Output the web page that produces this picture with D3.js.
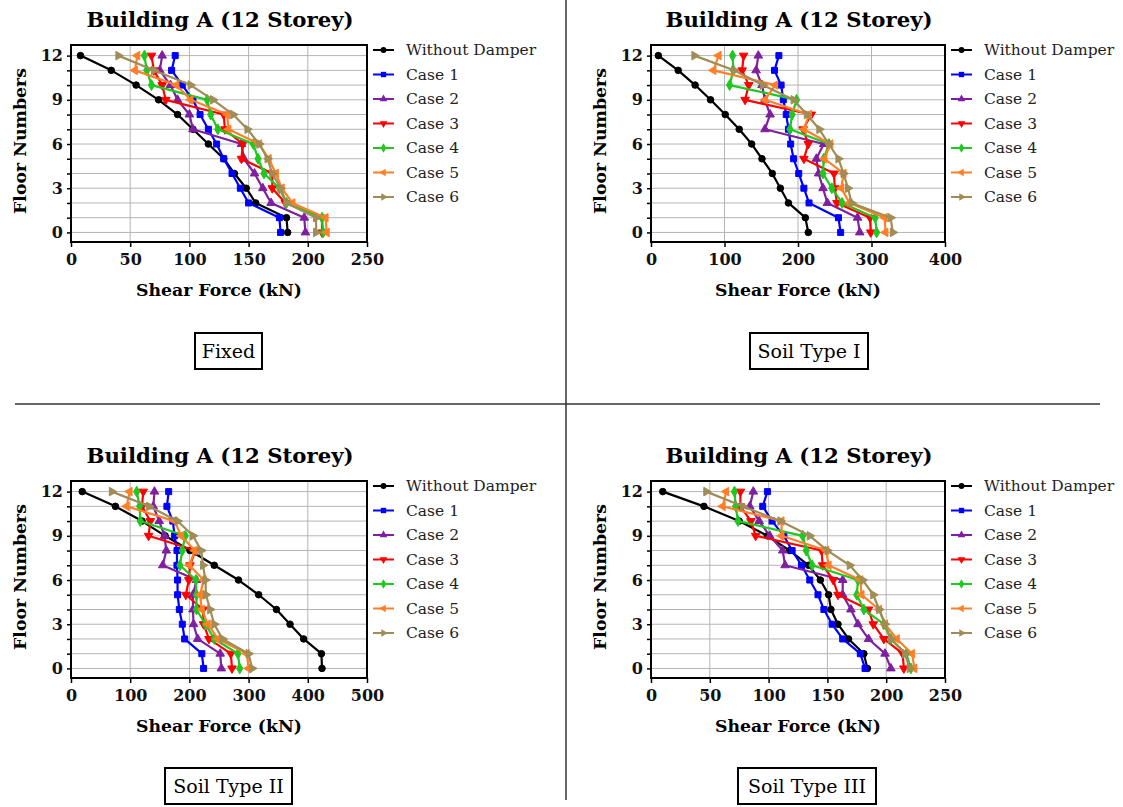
<!DOCTYPE html>
<html>
<head>
<meta charset="utf-8">
<script src="https://d3js.org/d3.v7.min.js"></script>
<style>
  body { margin: 0; background: #fff; }
  text { font-family: "DejaVu Serif", serif; }
</style>
</head>
<body>
<svg id="chart" width="1123" height="807"></svg>
<script>
// floors on the y axis, and which of them get a label
const floors = [0, 1, 2, 3, 4, 5, 6, 7, 8, 9, 10, 11, 12];
const floorLabels = [0, 3, 6, 9, 12];
const seriesNames = ["Without Damper", "Case 1", "Case 2", "Case 3", "Case 4", "Case 5", "Case 6"];

// shear force (kN) per floor, floor 0 -> 12, one row per series
const fixedShear = [
  [183, 182, 156, 148, 138, 129, 116, 103, 90, 74, 55, 34, 8],
  [177, 176, 150, 143, 136, 129, 123, 116, 109, 103, 94, 85, 88],
  [198, 197, 169, 162, 155, 146, 144, 103, 100, 90, 84, 75, 77],
  [212, 212, 181, 170, 170, 144, 145, 130, 129, 80, 77, 70, 68],
  [213, 212, 182, 176, 163, 158, 154, 124, 118, 115, 68, 64, 62],
  [216, 215, 187, 178, 173, 167, 159, 133, 132, 101, 89, 54, 56],
  [207, 207, 182, 177, 170, 166, 159, 149, 137, 120, 101, 70, 40]
];
const soil1Shear = [
  [214, 210, 187, 176, 165, 151, 137, 120, 101, 81, 60, 37, 10],
  [258, 255, 215, 208, 201, 194, 190, 187, 184, 180, 177, 168, 174],
  [284, 281, 240, 234, 228, 225, 235, 155, 162, 155, 151, 143, 146],
  [299, 298, 253, 250, 249, 208, 214, 207, 218, 128, 133, 124, 126],
  [307, 305, 260, 246, 234, 235, 242, 189, 192, 198, 107, 112, 111],
  [319, 318, 270, 259, 262, 236, 244, 208, 215, 155, 169, 85, 92],
  [329, 326, 273, 268, 262, 255, 242, 229, 212, 194, 152, 113, 59]
];
const soil2Shear = [
  [424, 423, 393, 370, 347, 317, 283, 242, 201, 159, 120, 75, 19],
  [224, 221, 192, 188, 183, 180, 180, 179, 179, 175, 172, 162, 165],
  [254, 252, 214, 207, 206, 206, 212, 155, 161, 158, 149, 139, 141],
  [272, 270, 233, 224, 223, 194, 199, 201, 210, 131, 134, 120, 122],
  [285, 282, 242, 227, 212, 212, 211, 184, 188, 193, 117, 116, 111],
  [300, 297, 248, 231, 221, 218, 224, 200, 209, 186, 175, 94, 99],
  [306, 300, 256, 242, 235, 228, 227, 223, 220, 206, 180, 132, 69]
];
const soil3Shear = [
  [184, 181, 168, 159, 153, 151, 144, 134, 118, 99, 75, 45, 10],
  [182, 178, 163, 154, 147, 142, 135, 128, 120, 113, 103, 95, 99],
  [204, 199, 185, 176, 170, 163, 163, 114, 112, 101, 92, 84, 87],
  [215, 214, 198, 189, 185, 159, 155, 146, 145, 89, 85, 76, 76],
  [221, 217, 204, 198, 181, 175, 176, 137, 132, 129, 74, 72, 71],
  [224, 222, 209, 199, 194, 179, 178, 151, 149, 111, 111, 61, 64],
  [220, 216, 204, 199, 194, 189, 180, 169, 150, 135, 110, 78, 47]
];

const ticks250 = [0, 50, 100, 150, 200, 250];
const ticks400 = [0, 100, 200, 300, 400];
const ticks500 = [0, 100, 200, 300, 400, 500];

const colors = ["#000000", "#0000ff", "#7f1fa0", "#ff0000", "#1ec81e", "#ff7f27", "#a08c55"];
const markers = [
  {type: d3.symbolCircle, rot: 0, size: 34},
  {type: d3.symbolSquare, rot: 0, size: 36},
  {type: d3.symbolTriangle, rot: 0, size: 32},
  {type: d3.symbolTriangle, rot: 180, size: 32},
  {type: d3.symbolDiamond, rot: 0, size: 34},
  {type: d3.symbolTriangle, rot: -90, size: 32},
  {type: d3.symbolTriangle, rot: 90, size: 32}
];

let svg = d3.select("svg#chart");

// separators between the four panels
svg.append("line").attr("x1", 566).attr("x2", 566).attr("y1", 0).attr("y2", 800)
  .style("stroke", "#333").style("stroke-width", 1.5);
svg.append("line").attr("x1", 15).attr("x2", 1100).attr("y1", 404).attr("y2", 404)
  .style("stroke", "#333").style("stroke-width", 1.5);

function drawPanel(p) {
  let g = svg.append("g").attr("transform", "translate(" + p.left + "," + p.top + ")");
  let w = p.width, h = 197;
  let xScale = d3.scaleLinear().domain([0, p.ticks[p.ticks.length - 1]]).range([0, w]);
  let yScale = d3.scaleLinear().domain([-0.65, 12.72]).range([h, 0]);

  //grid
  floors.forEach(f => {
    g.append("line").attr("x1", 0).attr("x2", w).attr("y1", yScale(f)).attr("y2", yScale(f))
      .style("stroke", "#b4b4b4").style("stroke-width", 1);
  });
  p.ticks.forEach(t => {
    g.append("line").attr("x1", xScale(t)).attr("x2", xScale(t)).attr("y1", 0).attr("y2", h)
      .style("stroke", "#b4b4b4").style("stroke-width", 1);
  });

  //axes
  let xAxis = d3.axisBottom(xScale).tickValues(p.ticks).tickSize(5).tickSizeOuter(0).tickPadding(7);
  let xa = g.append("g").attr("transform", "translate(0," + h + ")").call(xAxis);
  let yAxis = d3.axisLeft(yScale).tickValues(floors).tickSize(4).tickSizeOuter(0).tickPadding(4)
    .tickFormat(d => floorLabels.includes(d) ? d : "");
  let ya = g.append("g").call(yAxis);
  [xa, ya].forEach(a => {
    a.select(".domain").remove();
    a.selectAll("line").style("stroke", "#000").style("stroke-width", 1.5);
    a.selectAll("text").style("font-family", "DejaVu Serif").style("font-weight", "bold")
      .style("font-size", "16px").style("fill", "#111");
  });

  //series
  p.values.forEach((vals, i) => {
    let pts = vals.map((v, k) => [xScale(v), yScale(floors[k])]);
    g.append("path").attr("d", d3.line()(pts)).style("fill", "none")
      .style("stroke", colors[i]).style("stroke-width", 2.2).style("stroke-linejoin", "round");
    let sym = d3.symbol().type(markers[i].type).size(markers[i].size);
    pts.forEach(pt => {
      g.append("path").attr("d", sym())
        .attr("transform", "translate(" + pt[0] + "," + pt[1] + ") rotate(" + markers[i].rot + ")")
        .style("fill", colors[i]).style("stroke", colors[i]).style("stroke-width", 1);
    });
  });

  //frame
  g.append("rect").attr("x", 0).attr("y", 0).attr("width", w).attr("height", h)
    .style("fill", "none").style("stroke", "#000").style("stroke-width", 2);

  //texts
  g.append("text").attr("x", w / 2 + 1).attr("y", -18).attr("text-anchor", "middle")
    .attr("textLength", 267).attr("lengthAdjust", "spacingAndGlyphs")
    .style("font-size", "20px").style("font-weight", "bold").text("Building A (12 Storey)");
  g.append("text").attr("x", w / 2).attr("y", 251).attr("text-anchor", "middle")
    .attr("textLength", 166).attr("lengthAdjust", "spacingAndGlyphs")
    .style("font-size", "17px").style("font-weight", "bold").text("Shear Force (kN)");
  g.append("text").attr("transform", "translate(" + (-45) + "," + 96 + ") rotate(-90)")
    .attr("text-anchor", "middle").attr("textLength", 146).attr("lengthAdjust", "spacingAndGlyphs")
    .style("font-size", "17px").style("font-weight", "bold").text("Floor Numbers");

  //legend
  seriesNames.forEach((name, i) => {
    let ly = 5 + i * 24.5;
    let lg = g.append("g").attr("transform", "translate(" + (w + 6) + "," + ly + ")");
    lg.append("line").attr("x1", 0).attr("x2", 21).attr("y1", 0).attr("y2", 0)
      .style("stroke", colors[i]).style("stroke-width", 2);
    lg.append("path").attr("d", d3.symbol().type(markers[i].type).size(markers[i].size * 0.8)())
      .attr("transform", "translate(10.5,0) rotate(" + markers[i].rot + ")")
      .style("fill", colors[i]);
    lg.append("text").attr("x", 33).attr("y", 5).style("font-size", "15.5px").style("fill", "#222")
      .text(name);
  });

  //condition box
  g.append("rect").attr("x", p.boxX - p.left).attr("y", p.boxY - p.top).attr("width", p.boxW).attr("height", 36)
    .style("fill", "#fff").style("stroke", "#000").style("stroke-width", 2);
  g.append("text").attr("x", p.boxX - p.left + p.boxW / 2).attr("y", p.boxY - p.top + 25)
    .attr("text-anchor", "middle").style("font-size", "19px").text(p.boxLabel);
}

drawPanel({left: 71, top: 45, width: 296, ticks: ticks250, values: fixedShear,
  boxLabel: "Fixed", boxX: 195, boxY: 333, boxW: 67});
drawPanel({left: 651, top: 45, width: 294, ticks: ticks400, values: soil1Shear,
  boxLabel: "Soil Type I", boxX: 750, boxY: 333, boxW: 118});
drawPanel({left: 71, top: 481, width: 296, ticks: ticks500, values: soil2Shear,
  boxLabel: "Soil Type II", boxX: 165, boxY: 768, boxW: 127});
drawPanel({left: 651, top: 481, width: 294, ticks: ticks250, values: soil3Shear,
  boxLabel: "Soil Type III", boxX: 738, boxY: 768, boxW: 138});
</script>
</body>
</html>
